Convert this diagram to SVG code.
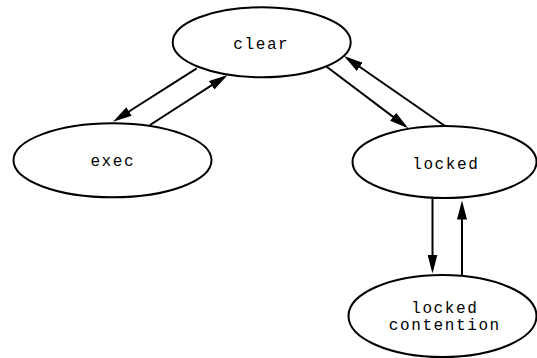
<svg xmlns="http://www.w3.org/2000/svg" width="537" height="358" viewBox="0 0 537 358">
<style>
.n ellipse{fill:#fff;stroke:#000;stroke-width:2}
.n text{font-family:"Liberation Mono","Courier New",monospace;font-size:16px;letter-spacing:1.6px;fill:#000;text-anchor:middle}
.e line{stroke:#000;stroke-width:2;marker-end:url(#ah)}
</style>
<defs>
<marker id="ah" viewBox="0 0 19 10" refX="15" refY="5" markerWidth="19" markerHeight="10" markerUnits="userSpaceOnUse" orient="auto">
<path d="M0,0 L19,5 L0,10 z" fill="#000"/>
</marker>
</defs>
<g id="edges" class="e">
<line x1="196.7" y1="68.3" x2="116.4" y2="119.5"/>
<line x1="150" y1="125" x2="224.3" y2="77.2"/>
<line x1="326.7" y1="66.7" x2="405.1" y2="125.9"/>
<line x1="445" y1="126" x2="347.3" y2="58.3"/>
<line x1="432.5" y1="199" x2="432.5" y2="269.5"/>
<line x1="462" y1="275" x2="462" y2="204.5"/>
</g>
<g id="clear" class="n"><ellipse cx="261.7" cy="42.3" rx="89" ry="35"/><text x="261.3" y="49">clear</text></g>
<g id="exec" class="n"><ellipse cx="112.5" cy="160.3" rx="99" ry="37"/><text x="112.8" y="166">exec</text></g>
<g id="locked" class="n"><ellipse cx="444.5" cy="162" rx="92" ry="36"/><text x="445.8" y="169">locked</text></g>
<g id="locked_contention" class="n"><ellipse cx="442.5" cy="316" rx="94" ry="41"/><text x="444.8" y="313">locked</text><text x="444.8" y="330">contention</text></g>
</svg>
